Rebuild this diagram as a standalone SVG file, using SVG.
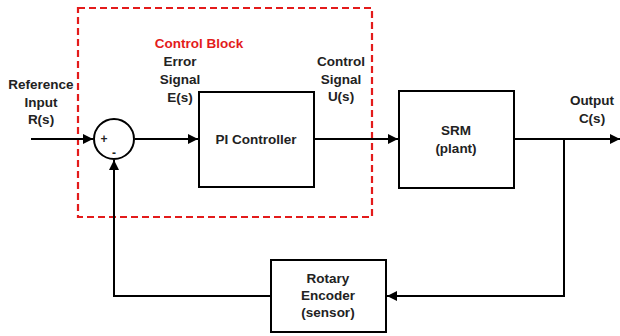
<svg xmlns="http://www.w3.org/2000/svg" width="620" height="336" viewBox="0 0 620 336">
<defs>
<marker id="ah" viewBox="0 0 10 10" refX="10" refY="5" markerWidth="10" markerHeight="10" markerUnits="userSpaceOnUse" orient="auto">
<path d="M0,0 L10,5 L0,10 z" fill="#000"/>
</marker>
<style>
text{font-family:"Liberation Sans",Arial,sans-serif;font-weight:bold;font-size:13.5px;fill:#222;text-anchor:middle}
.box{fill:#fff;stroke:#000;stroke-width:2}
.ln{fill:none;stroke:#000;stroke-width:2}
.red{fill:#e31b1b}
</style>
</defs>
<rect width="620" height="336" fill="#fff"/>
<g id="controlBlock">
<rect x="78" y="8" width="294" height="209" fill="none" stroke="#e31b1b" stroke-width="2.2" stroke-dasharray="7,4"/>
<text class="red" x="199" y="48">Control Block</text>
</g>
<g id="connectors">
<path class="ln" d="M31,139 H93" marker-end="url(#ah)"/>
<path class="ln" d="M135,139 H198" marker-end="url(#ah)"/>
<path class="ln" d="M314,139 H398" marker-end="url(#ah)"/>
<path class="ln" d="M514,139 H620" marker-end="url(#ah)"/>
<path class="ln" d="M564,139 V296 H387" marker-end="url(#ah)"/>
<path class="ln" d="M271,296 H114 V160" marker-end="url(#ah)"/>
</g>
<g id="sum">
<circle cx="114" cy="139" r="20" fill="#fff" stroke="#000" stroke-width="2"/>
<text x="104" y="143" style="font-size:12px">+</text>
<text x="114" y="157" style="font-size:12px">-</text>
</g>
<g id="pi">
<rect class="box" x="199" y="92" width="115" height="95"/>
<text x="256" y="144">PI Controller</text>
</g>
<g id="srm">
<rect class="box" x="399" y="91" width="115" height="97"/>
<text x="456" y="135">SRM</text>
<text x="456" y="153">(plant)</text>
</g>
<g id="encoder">
<rect class="box" x="271" y="260" width="115" height="72"/>
<text x="328" y="283">Rotary</text>
<text x="328" y="300">Encoder</text>
<text x="328" y="317">(sensor)</text>
</g>
<g id="labels">
<text x="41" y="89">Reference</text>
<text x="41" y="107">Input</text>
<text x="41" y="124">R(s)</text>
<text x="180" y="66">Error</text>
<text x="180" y="84">Signal</text>
<text x="180" y="102">E(s)</text>
<text x="341" y="66">Control</text>
<text x="341" y="84">Signal</text>
<text x="341" y="101">U(s)</text>
<text x="592" y="105">Output</text>
<text x="592" y="123">C(s)</text>
</g>
</svg>
